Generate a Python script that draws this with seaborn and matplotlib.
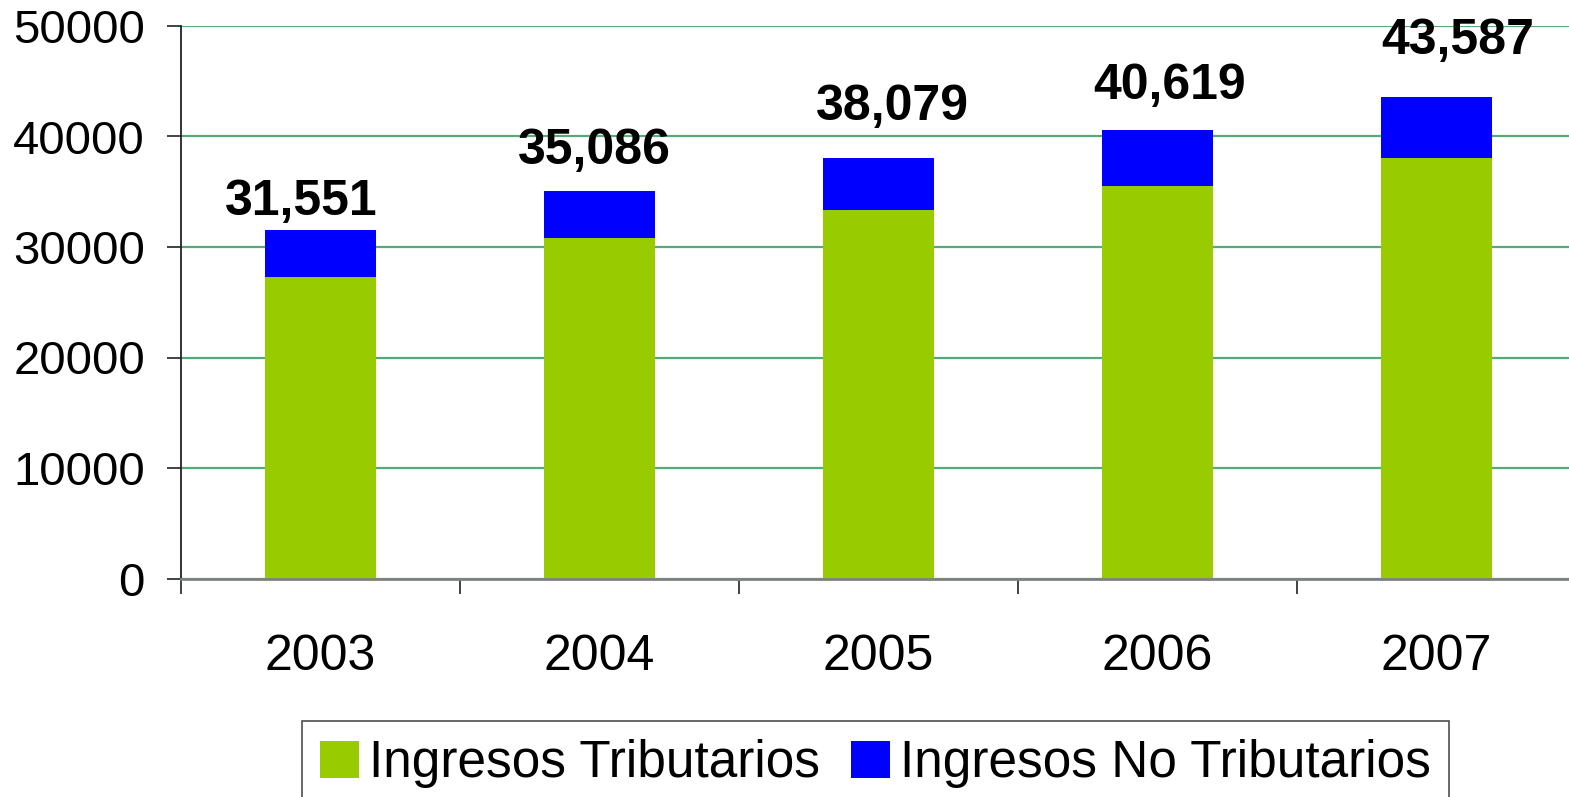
import matplotlib
matplotlib.use('Agg')
import matplotlib.pyplot as plt
import seaborn as sns
import numpy as np
from matplotlib.patches import Patch

# Data
years = ['2003', '2004', '2005', '2006', '2007']
tributarios = [27280, 30810, 33350, 35520, 38050]
no_tributarios = [4271, 4276, 4729, 5099, 5537]
total_labels = ['31,551', '35,086', '38,079', '40,619', '43,587']

series_names = ['Ingresos Tributarios', 'Ingresos No Tributarios']
green = '#99CC00'
blue = '#0000FF'
grid_color = '#55aa77'


def main():
    sns.set_style('white')
    plt.rcParams['font.family'] = ['Liberation Sans', 'DejaVu Sans']
    plt.rcParams['text.color'] = 'black'
    plt.rcParams['xtick.color'] = 'black'
    plt.rcParams['ytick.color'] = 'black'

    totals = np.array(tributarios) + np.array(no_tributarios)

    fig = plt.figure(figsize=(15.69, 7.97), dpi=100)
    ax = fig.add_axes([181 / 1569, 1 - 578.5 / 797, 1395 / 1569, 552.5 / 797])

    # stacked bars: total in blue underneath, tributarios in green on top of it
    sns.barplot(x=years, y=totals, color=blue, width=0.4, saturation=1,
                linewidth=0, ax=ax, zorder=3)
    sns.barplot(x=years, y=tributarios, color=green, width=0.4, saturation=1,
                linewidth=0, ax=ax, zorder=4)

    ax.set_ylim(0, 50000)
    ax.set_xlim(-0.5, 4.5)
    ax.set_yticks(range(0, 50001, 10000))
    ax.yaxis.grid(True, color=grid_color, linewidth=1.6)
    ax.set_axisbelow(True)

    for s in ['top', 'right']:
        ax.spines[s].set_visible(False)
    ax.spines['left'].set_color('#222222')
    ax.spines['left'].set_linewidth(1.3)
    ax.spines['bottom'].set_color('#808080')
    ax.spines['bottom'].set_linewidth(2)
    ax.spines['bottom'].set_zorder(5)

    ax.tick_params(axis='y', direction='out', length=10, width=1.2, color='#222222',
                   labelsize=34, pad=16, left=True)
    # year labels centred, ticks at category boundaries
    ax.tick_params(axis='x', which='major', length=0, labelsize=36, pad=40)
    ax.set_xticks(np.arange(-0.5, 5, 1), minor=True)
    ax.tick_params(axis='x', which='minor', direction='out', length=11, width=1.2,
                   color='#222222', bottom=True)
    ax.set_xlabel('')
    ax.set_ylabel('')

    # total labels above bars (small hand nudges, in points)
    dx = [-14, -4, 10, 9, 15]
    dy = [11, 19, 27, 22, 31]
    for i, lab in enumerate(total_labels):
        ax.annotate(lab, (i, totals[i]), xytext=(dx[i], dy[i]), textcoords='offset points',
                    ha='center', va='baseline', fontsize=36, fontweight='bold',
                    color='black')

    handles = [Patch(facecolor=green, edgecolor='none'), Patch(facecolor=blue, edgecolor='none')]
    leg = fig.legend(handles, series_names, loc='upper center',
                     bbox_to_anchor=(0.558, 0.095), ncol=2, fontsize=37,
                     frameon=True, fancybox=False, edgecolor='#222222',
                     handlelength=0.75, handleheight=0.75, handletextpad=0.2,
                     columnspacing=0.6, borderpad=0.35, borderaxespad=0)
    leg.get_frame().set_linewidth(1.2)
    for t in leg.get_texts():
        t.set_color('black')

    fig.savefig('out.png', dpi=100)


if __name__ == '__main__':
    main()
